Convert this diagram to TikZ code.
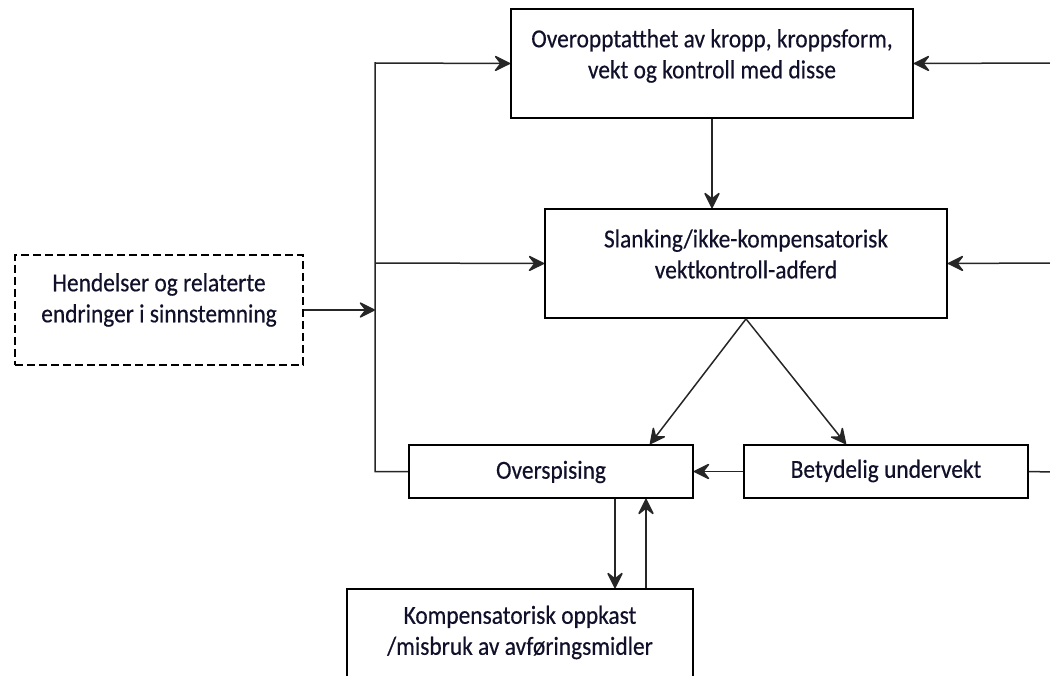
\documentclass[tikz,border=0pt]{standalone}
\usepackage{fontspec}
\setmainfont{Carlito}[FakeStretch=0.9,FakeBold=0.4]
\usetikzlibrary{arrows.meta}
\definecolor{txt}{HTML}{10102A}
\begin{document}
\begin{tikzpicture}[x=1pt,y=-1pt,
  >={Stealth[length=18pt,width=18pt,inset=7pt,line join=round]},
  box/.style={draw=black,line width=1.8pt,rectangle,inner sep=0pt},
  lbl/.style={text=txt,align=center,font=\fontsize{26}{31}\selectfont,inner sep=0pt},
  con/.style={draw=black!85,line width=1.5pt},
  arr/.style={con,->}]
\useasboundingbox (0,0) rectangle (1050,676);
\clip (0,0) rectangle (1050,676);
% boxes
\node[box,minimum width=402pt,minimum height=109pt] (top) at (712,63.5) {};
\node[box,minimum width=402pt,minimum height=109pt] (mid) at (746,263.5) {};
\node[box,dashed,dash pattern=on 8pt off 4pt,minimum width=288pt,minimum height=110pt] (hend) at (159,310) {};
\node[box,minimum width=284pt,minimum height=53pt] (over) at (551,471.5) {};
\node[box,minimum width=284pt,minimum height=53pt] (bet) at (886,471.5) {};
\node[box,minimum width=346pt,minimum height=120pt] (komp) at (520,649) {};
% labels
\node[lbl] (topt) at (712,56) {Overopptatthet av kropp, kroppsform,\\vekt og kontroll med disse};
\node[lbl] (midt) at (746,254) {Slanking/ikke-kompensatorisk\\vektkontroll-adferd};
\node[lbl] (hendt) at (159,300) {Hendelser og relaterte\\endringer i sinnstemning};
\node[lbl] (overt) at (551,472) {Overspising};
\node[lbl] (bett) at (886,471) {Betydelig undervekt};
\node[lbl] (kompt) at (520,632.5) {Kompensatorisk oppkast\\/misbruk av avføringsmidler};
% junction coordinates
\coordinate (jH) at (375,310);
\coordinate (jT) at (375,63);
\coordinate (jM) at (375,263);
\coordinate (rT) at (1051,63);
\coordinate (rM) at (1051,263);
\coordinate (rB) at (1051,472);
% connectors
\draw[arr] (hend.east) -- (jH);
\draw[arr] (over.west) -| (jT) -- (top.west);
\draw[arr] (jM) -- (mid.west);
\draw[arr] (top.south) -- (top.south |- mid.north);
\draw[arr] (mid.south) -- ([xshift=99pt]over.north);
\draw[arr] (mid.south) -- ([xshift=-40pt]bet.north);
\draw[arr] (bet.west) -- (over.east);
\draw[con] (bet.east) -- (rB);
\draw[arr] (rT) -- (top.east);
\draw[arr] (rM) -- (mid.east);
\draw[arr] ([xshift=64pt]over.south) -- ([xshift=95pt]komp.north);
\draw[arr] ([xshift=126pt]komp.north) -- ([xshift=95pt]over.south);
\end{tikzpicture}
\end{document}
